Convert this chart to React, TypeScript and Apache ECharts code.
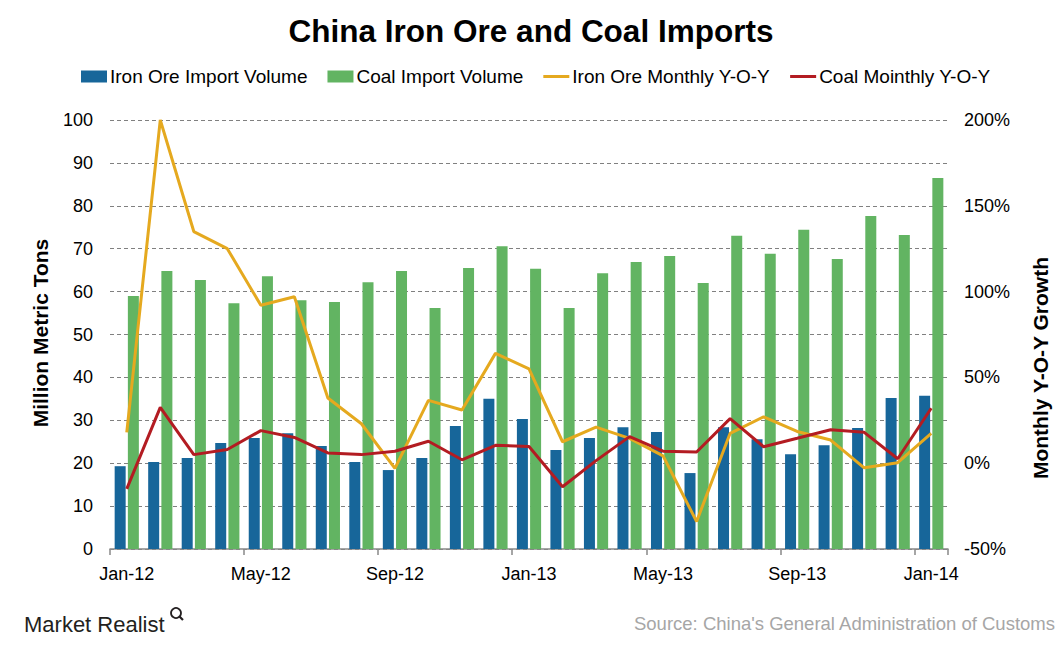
import React, { useEffect, useRef } from "react";
import * as echarts from "echarts";

const categories = [
  "Jan-12", "Feb-12", "Mar-12", "Apr-12", "May-12", "Jun-12", "Jul-12", "Aug-12",
  "Sep-12", "Oct-12", "Nov-12", "Dec-12", "Jan-13", "Feb-13", "Mar-13", "Apr-13",
  "May-13", "Jun-13", "Jul-13", "Aug-13", "Sep-13", "Oct-13", "Nov-13", "Dec-13", "Jan-14",
];
const ironVolume = [19.3, 20.3, 21.2, 24.7, 25.9, 27.0, 24.0, 20.3, 18.4, 21.2, 28.7, 35.0, 30.3, 23.1, 25.9, 28.4, 27.3, 17.7, 28.4, 25.6, 22.1, 24.2, 28.2, 35.2, 35.7];
const coalVolume = [59.0, 64.8, 62.7, 57.3, 63.6, 58.0, 57.6, 62.2, 64.8, 56.2, 65.5, 70.6, 65.3, 56.2, 64.3, 66.9, 68.3, 62.0, 73.0, 68.8, 74.4, 67.6, 77.6, 73.2, 86.5];
const ironYoY = [18, 200, 135, 125, 92, 97, 38, 23, -3, 36.6, 31, 64, 55, 12.5, 21, 14.5, 4.3, -34, 17.4, 27, 18.5, 13.5, -2.7, 0.3, 17.4];
const coalYoY = [-15, 32.5, 5, 8, 19, 15, 6, 5, 7, 12.8, 2, 10.4, 9.7, -13.7, 1.5, 15.5, 7, 6.5, 26, 9.6, 14.5, 19.5, 18, 2.6, 32];
const seriesNames = ["Iron Ore Import Volume", "Coal Import Volume", "Iron Ore Monthly Y-O-Y", "Coal Mointhly Y-O-Y"];

const FONT = "'Liberation Sans', Arial, sans-serif";
const LINE_ICON = "path://M0,0h0.05v0.05h-0.05Z M0,4.5h26v3h-26Z M25.95,11.95h0.05v0.05h-0.05Z";

export default function App() {
  const ref = useRef<HTMLDivElement>(null);
  useEffect(() => {
    if (!ref.current) return;
    const chart = echarts.init(ref.current, null, { renderer: "svg" });
    chart.setOption({
      animation: false,
      backgroundColor: "#ffffff",
      textStyle: { fontFamily: FONT },
      title: {
        text: "China Iron Ore and Coal Imports",
        left: "center",
        top: 10,
        textStyle: { fontFamily: FONT, fontSize: 31.5, fontWeight: "bold", color: "#000" },
      },
      legend: {
        data: [
          { name: seriesNames[0], icon: "rect" },
          { name: seriesNames[1], icon: "rect" },
          { name: seriesNames[2], icon: LINE_ICON },
          { name: seriesNames[3], icon: LINE_ICON },
        ],
        left: 76,
        top: 62,
        itemWidth: 26,
        itemHeight: 12,
        itemGap: 20,
        textStyle: { fontFamily: FONT, fontSize: 19, color: "#000", padding: [0, 0, 0, -2] },
      },
      grid: { left: 110, right: 114, top: 120, bottom: 104, containLabel: false },
      xAxis: {
        type: "category",
        data: categories,
        boundaryGap: true,
        axisLine: { lineStyle: { color: "#888", width: 1.5 } },
        axisTick: { show: true, interval: 3, length: 6, lineStyle: { color: "#888", width: 1.5 } },
        axisLabel: { interval: 3, margin: 16, fontFamily: FONT, fontSize: 18, color: "#000" },
      },
      yAxis: [
        {
          type: "value",
          min: 0,
          max: 100,
          interval: 10,
          axisLine: { show: false },
          axisTick: { show: false },
          axisLabel: { margin: 17, fontFamily: FONT, fontSize: 18, color: "#000" },
          splitLine: { show: true, lineStyle: { color: "#808080", width: 1.2, type: [4, 3] } },
        },
        {
          type: "value",
          min: -50,
          max: 200,
          interval: 50,
          axisLine: { show: false },
          axisTick: { show: false },
          axisLabel: { margin: 16, fontFamily: FONT, fontSize: 18, color: "#000", formatter: "{value}%" },
          splitLine: { show: false },
        },
      ],
      series: [
        {
          name: seriesNames[0],
          type: "bar",
          data: ironVolume,
          barWidth: 11,
          barGap: "20%",
          itemStyle: { color: "#17669a" },
        },
        {
          name: seriesNames[1],
          type: "bar",
          data: coalVolume,
          barWidth: 11,
          barGap: "20%",
          itemStyle: { color: "#62b462" },
        },
        {
          name: seriesNames[2],
          type: "line",
          yAxisIndex: 1,
          data: ironYoY,
          symbol: "none",
          lineStyle: { color: "#e5a91f", width: 3 },
          itemStyle: { color: "#e5a91f" },
        },
        {
          name: seriesNames[3],
          type: "line",
          yAxisIndex: 1,
          data: coalYoY,
          symbol: "none",
          lineStyle: { color: "#b31c22", width: 3 },
          itemStyle: { color: "#b31c22" },
        },
      ],
      graphic: [
        {
          type: "text",
          x: 40,
          y: 333,
          rotation: Math.PI / 2,
          style: {
            text: "Million Metric Tons",
            fontFamily: FONT,
            fontSize: 21,
            fontWeight: "bold",
            fill: "#000",
            textAlign: "center",
            textVerticalAlign: "middle",
          },
        },
        {
          type: "text",
          x: 1040,
          y: 368,
          rotation: Math.PI / 2,
          style: {
            text: "Monthly Y-O-Y Growth",
            fontFamily: FONT,
            fontSize: 21,
            fontWeight: "bold",
            fill: "#000",
            textAlign: "center",
            textVerticalAlign: "middle",
          },
        },
        {
          type: "text",
          x: 24,
          y: 624,
          style: {
            text: "Market Realist",
            fontFamily: FONT,
            fontSize: 22,
            fill: "#231f20",
            textAlign: "left",
            textVerticalAlign: "middle",
          },
        },
        {
          type: "circle",
          shape: { cx: 176, cy: 613, r: 5 },
          style: { fill: "none", stroke: "#231f20", lineWidth: 1.8 },
        },
        {
          type: "line",
          shape: { x1: 179.5, y1: 616.5, x2: 183, y2: 620 },
          style: { stroke: "#231f20", lineWidth: 2.2 },
        },
        {
          type: "text",
          x: 1055,
          y: 623,
          style: {
            text: "Source: China's General Administration of Customs",
            fontFamily: FONT,
            fontSize: 18.5,
            fill: "#a6a6a6",
            textAlign: "right",
            textVerticalAlign: "middle",
          },
        },
      ],
    });
    return () => chart.dispose();
  }, []);
  return (
    <div
      ref={ref}
      style={{ position: "fixed", left: 0, top: 0, width: 1062, height: 653, background: "#fff" }}
    />
  );
}
